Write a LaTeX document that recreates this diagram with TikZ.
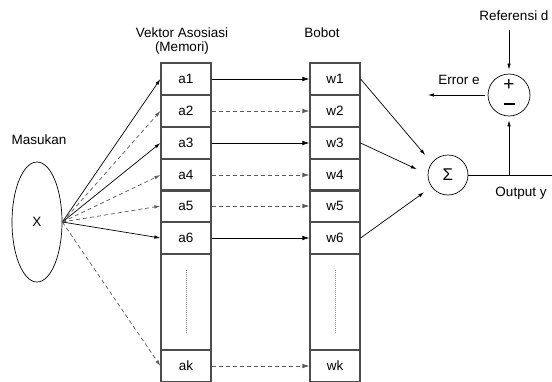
\documentclass[tikz,border=0pt]{standalone}
\usepackage{fontspec}
\setmainfont{Liberation Sans}
\usetikzlibrary{arrows.meta,shapes.geometric}

\tikzset{
  cell/.style={draw=black!70, line width=1.2pt, minimum width=50pt, minimum height=32pt,
    inner sep=0pt, font=\fontsize{13.5}{15}\selectfont},
  gapcell/.style={cell, minimum height=96pt},
  lbl/.style={font=\fontsize{13.5}{15}\selectfont, inner sep=0pt},
  solidarrow/.style={draw=black, line width=0.7pt, -{Latex[length=7pt,width=4.5pt]}},
  dasharrow/.style={draw=black!65, line width=0.7pt, dash pattern=on 4pt off 3pt,
    -{Latex[length=7pt,width=4.5pt]}},
  insolid/.style={draw=black, line width=0.7pt, -{Latex[length=6pt,width=3.5pt]}},
  indash/.style={draw=black!65, line width=0.7pt, dash pattern=on 4pt off 3pt,
    -{Latex[length=6pt,width=3.5pt]}},
  wire/.style={draw=black, line width=0.7pt},
  dotline/.style={draw=black!45, line width=0.5pt, dash pattern=on 1pt off 1pt},
}

\begin{document}
\begin{tikzpicture}[x=1pt, y=-1pt]
\useasboundingbox (0,0) rectangle (552,381);
\clip (0,0) rectangle (552,381);

% input
\node[ellipse, draw, line width=0.7pt, minimum width=50pt, minimum height=120pt,
  inner sep=0pt, font=\fontsize{13.5}{15}\selectfont] (X) at (37,222) {X};
\node[lbl] (masukan) at (39,140) {Masukan};

% association vector (memory)
\node[lbl] (vekt) at (182,33) {Vektor Asosiasi};
\node[lbl] (memo) at (182,48) {(Memori)};
\node[cell] (a1) at (186,79) {a1};
\node[cell] (a2) at (186,111) {a2};
\node[cell] (a3) at (186,143) {a3};
\node[cell] (a4) at (186,175) {a4};
\node[cell] (a5) at (186,206) {a5};
\node[cell] (a6) at (186,238) {a6};
\node[gapcell] (ag) at (186,302) {};
\node[cell] (ak) at (186,366) {ak};

% weights
\node[lbl] (bobot) at (322,33) {Bobot};
\node[cell] (w1) at (335,79) {w1};
\node[cell] (w2) at (335,111) {w2};
\node[cell] (w3) at (335,143) {w3};
\node[cell] (w4) at (335,175) {w4};
\node[cell] (w5) at (335,206) {w5};
\node[cell] (w6) at (335,238) {w6};
\node[gapcell] (wg) at (335,302) {};
\node[cell] (wk) at (335,366) {wk};

% ellipsis marks in the gaps
\draw[dotline] (ag.center) ++(0,-32) -- ++(0,63);
\draw[dotline] (wg.center) ++(0,-32) -- ++(0,63);

% input to memory
\draw[insolid] (X.east) -- (a1.west);
\draw[indash]  (X.east) -- (a2.west);
\draw[insolid] (X.east) -- (a3.west);
\draw[indash]  (X.east) -- (a4.west);
\draw[indash]  (X.east) -- (a5.west);
\draw[insolid] (X.east) -- (a6.west);
\draw[indash]  (X.east) -- (ak.west);

% memory to weights
\draw[solidarrow] (a1.east) -- (w1.west);
\draw[dasharrow]  (a2.east) -- (w2.west);
\draw[solidarrow] (a3.east) -- (w3.west);
\draw[dasharrow]  (a4.east) -- (w4.west);
\draw[dasharrow]  (a5.east) -- (w5.west);
\draw[solidarrow] (a6.east) -- (w6.west);
\draw[dasharrow]  (ak.east) -- (wk.west);

% summation
\node[circle, draw, line width=0.7pt, minimum size=40pt, inner sep=0pt,
  font=\fontsize{17}{19}\selectfont] (sum) at (448,175) {Σ};
\draw[insolid, shorten >=10pt] (w1.east) -- (sum.143);
\draw[insolid, shorten >=12pt] (w3.east) -- (sum.178);
\draw[insolid, shorten >=9pt]  (w6.east) -- (sum.216);

% comparator
\node[circle, draw, line width=0.7pt, minimum size=42pt, inner sep=0pt] (pm) at (509,95) {};
\node[lbl, font=\fontsize{19}{21}\selectfont] (plus) at (509,85) {+};
\draw[line width=2.4pt] (pm.center) ++(-5.5,9) coordinate (m0) -- ++(11,0) coordinate (m1);

\coordinate (j) at (509,175);
\coordinate (out) at (552,175);
\draw[wire] (sum.east) -- (out);
\draw[insolid, shorten >=4pt] (j) -- (pm.south);
\node[lbl] (outy) at (521,193) {Output y};

\coordinate (ref) at (509,30);
\draw[insolid, shorten >=4pt] (ref) -- (pm.north);
\node[lbl] (refd) at (514,16) {Referensi d};

\coordinate (err) at (428,95);
\draw[insolid, shorten <=3pt] (pm.west) -- (err);
\node[lbl] (erre) at (459,80) {Error e};
\end{tikzpicture}
\end{document}
